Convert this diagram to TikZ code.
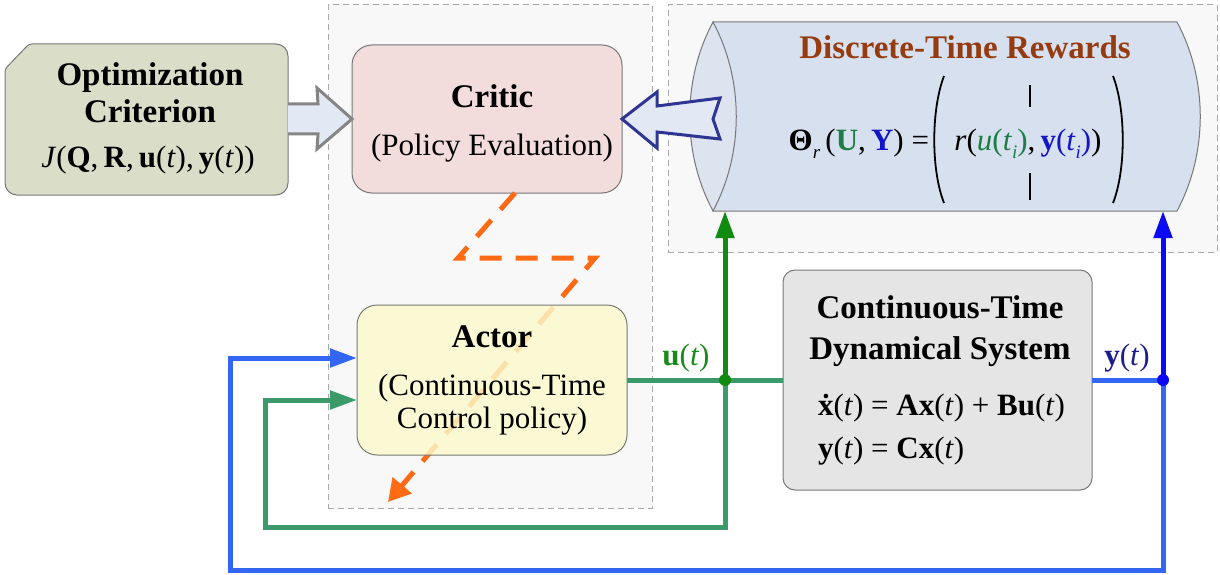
\documentclass[tikz,border=0pt]{standalone}
\usepackage{fontspec}
\setmainfont{Liberation Serif}
\usetikzlibrary{arrows.meta,calc}

\definecolor{optfill}{HTML}{DADEC8}
\definecolor{critfill}{HTML}{F2DCDC}
\definecolor{actfill}{HTML}{FCFACC}
\definecolor{sysfill}{HTML}{E5E5E5}
\definecolor{cylfill}{HTML}{D7E0EE}
\definecolor{cylface}{HTML}{DDE4F0}
\definecolor{panelfill}{HTML}{F8F8F8}
\definecolor{paneledge}{HTML}{A8A8A8}
\definecolor{boxedge}{HTML}{777777}
\definecolor{arrowfill}{HTML}{E2E9F4}
\definecolor{grayedge}{HTML}{858585}
\definecolor{navyedge}{HTML}{2E3592}
\definecolor{orangeline}{HTML}{FF6A14}
\definecolor{darkgreen}{HTML}{118A11}
\definecolor{midgreen}{HTML}{3A9A6A}
\definecolor{purblue}{HTML}{0A0AF5}
\definecolor{midblue}{HTML}{3366F5}
\definecolor{rewbrown}{HTML}{953B0F}
\definecolor{eqgreen}{HTML}{1E7D46}
\definecolor{eqblue}{HTML}{1414C8}
\definecolor{labnavy}{HTML}{1E1E8C}
\definecolor{labgreen}{HTML}{1A8A1A}

\newcommand{\titlefont}{\fontsize{33}{38}\selectfont\bfseries}
\newcommand{\bodyfont}{\fontsize{31}{35}\selectfont}
\newcommand{\ti}{\textit{t}}
\newcommand{\lowsub}[1]{\raisebox{-0.28em}{\fontsize{19}{19}\selectfont\textit{#1}}}

\tikzset{
  panel/.style={draw=paneledge, fill=panelfill, line width=1pt,
    dash pattern=on 6pt off 4pt, inner sep=0pt, outer sep=0pt},
  blockbox/.style={draw=boxedge, line width=1pt, rounded corners=20pt,
    inner sep=0pt, outer sep=0pt},
  ghost/.style={inner sep=0pt, outer sep=0pt},
  txt/.style={inner sep=0pt, outer sep=0pt, anchor=base},
  wire/.style={line width=5pt},
  tip/.style={-{Triangle[length=27pt,width=18pt]}},
  hollow/.style={line width=3pt, line join=miter, fill=arrowfill},
  orangedash/.style={draw=orangeline, line width=5pt,
    dash pattern=on 22pt off 14pt},
}

\begin{document}
\begin{tikzpicture}[x=1pt,y=-1pt]
\useasboundingbox (0,0) rectangle (1220,575);

% dashed background panels
\node[panel, minimum width=324pt, minimum height=503pt] (pan1) at (490,256.5) {};
\node[panel, minimum width=549pt, minimum height=247pt] (pan2) at (942.5,128.5) {};

% optimization criterion (snipped top-left corner)
\node[ghost, minimum width=283pt, minimum height=151pt] (opt) at (146.5,119.5) {};
\draw[draw=boxedge, fill=optfill, line width=1pt]
  ($(opt.north west)+(0,25)$) [rounded corners=3pt] -- ($(opt.north west)+(24,0)$)
  [rounded corners=12pt] -- (opt.north east) -- (opt.south east) -- (opt.south west)
  [rounded corners=3pt] -- cycle;

% critic
\node[blockbox, fill=critfill, minimum width=270pt, minimum height=148pt] (critic) at (487,119) {};

% discrete-time rewards cylinder
\node[ghost, minimum width=512pt, minimum height=189pt] (rew) at (946,116.5) {};
\draw[draw=boxedge, fill=cylfill, line width=1pt]
  (713,22) -- (1177,22) .. controls (1208,80) and (1208,153) .. (1177,211) -- (713,211) -- cycle;
\draw[draw=boxedge, fill=cylface, line width=1pt]
  (713,22) .. controls (682,80) and (682,153) .. (713,211)
  .. controls (744,153) and (744,80) .. (713,22) -- cycle;

% hollow block arrows into the critic
\draw[hollow, draw=grayedge]
  ($(opt.east |- critic.west)+(0,-15)$) -- ($(critic.west)+(-34,-15)$)
  -- ($(critic.west)+(-35,-31)$) -- (critic.west) -- ($(critic.west)+(-35,30)$)
  -- ($(critic.west)+(-34,15)$) -- ($(opt.east |- critic.west)+(0,15)$);
\draw[hollow, draw=navyedge]
  (critic.east) -- ($(critic.east)+(35,-27)$) -- ($(critic.east)+(35,-13)$)
  -- ($(critic.east)+(98,-21)$) -- ($(critic.east)+(91,0)$) -- ($(critic.east)+(98,20)$)
  -- ($(critic.east)+(35,13)$) -- ($(critic.east)+(35,29)$) -- cycle;

% policy update path from critic to actor
\coordinate (o0) at ($(critic.south)+(28,0)$);
\coordinate (o1) at (458,258);
\coordinate (o2) at (595,258);
\coordinate (o3) at (388,502);
\draw[orangedash, -{Triangle[length=22pt,width=24pt]}] (o0) -- (o1) -- (o2) -- (o3);

% actor (slightly translucent so the path shows through)
\node[blockbox, fill=actfill, fill opacity=0.82, minimum width=270pt, minimum height=150pt] (actor) at (492,380) {};

% plant
\node[blockbox, fill=sysfill, rounded corners=12pt, minimum width=309pt, minimum height=220pt] (sys) at (937.5,380) {};

% signal wiring
\coordinate (ju) at (725,380);
\coordinate (jy) at (1163,380);
\coordinate (gc) at (265,527);
\coordinate (bc) at (230,570);
\coordinate (ain1) at ($(actor.west)+(0,-22)$);
\coordinate (ain2) at ($(actor.west)+(0,20)$);

\draw[wire, draw=midblue, tip] (jy) |- (bc) |- (ain1);
\draw[wire, draw=midgreen, tip] (ju) |- (gc) |- (ain2);
\draw[wire, draw=midgreen] (actor.east) -- (sys.west);
\draw[wire, draw=midblue] (sys.east) -- (jy);
\draw[wire, draw=darkgreen, tip] (ju) -- (ju |- rew.south);
\draw[wire, draw=purblue, tip] (jy) -- (jy |- rew.south);
\fill[darkgreen] (ju) circle[radius=6pt];
\fill[purblue] (jy) circle[radius=6pt];

% texts
\node[txt] (optA) at (150,86) {\titlefont Optimization};
\node[txt] (optB) at (150,123) {\titlefont Criterion};
\node[txt] (optC) at (148,167) {\bodyfont \textit{J}(\textbf{Q},\,\textbf{R},\,\textbf{u}(\ti),\,\textbf{y}(\ti))};

\node[txt] (critA) at (492,108) {\titlefont Critic};
\node[txt] (critB) at (492,155) {\bodyfont (Policy Evaluation)};

\node[txt] (actA) at (492,347) {\titlefont Actor};
\node[txt] (actB) at (492,395) {\bodyfont (Continuous-Time};
\node[txt] (actC) at (492,428) {\bodyfont Control policy)};

\node[txt] (sysA) at (940,318) {\titlefont Continuous-Time};
\node[txt] (sysB) at (940,359) {\titlefont Dynamical System};
\node[txt, anchor=base west] (sysC) at (818,415) {\bodyfont \textbf{x}(\ti) = \textbf{Ax}(\ti) + \textbf{Bu}(\ti)};
% time-derivative dot over the first x
\fill ($(sysC.base west)+(7.9,-19)$) circle[radius=2.3pt];
\node[txt, anchor=base west] (sysD) at (818,458) {\bodyfont \textbf{y}(\ti) = \textbf{Cx}(\ti)};

\node[txt] (ulab) at (686,365) {\bodyfont\color{labgreen}\textbf{u}(\ti)};
\node[txt] (ylab) at (1127,365) {\bodyfont\color{labnavy}\textbf{y}(\ti)};

\node[txt] (rewA) at (965,59) {\titlefont\color{rewbrown} Discrete-Time Rewards};
\node[txt, anchor=base east] (rewB) at (929,150)
  {\bodyfont \textbf{Θ}\lowsub{r}\,(\textcolor{eqgreen}{\textbf{U}},\,\textcolor{eqblue}{\textbf{Y}}) =};
\node[txt] (rewC) at (1028,150)
  {\bodyfont \textit{r}(\textcolor{eqgreen}{\textit{u}(\textit{t}\lowsub{i})},\,\textcolor{eqblue}{\textbf{y}(\textit{t}\lowsub{i})})};
% vector brackets and elision bars
\draw[line width=1.8pt] (944,76) .. controls (931,110) and (931,170) .. (944,203);
\draw[line width=1.8pt] (1113,76) .. controls (1126,110) and (1126,170) .. (1113,203);
\draw[line width=2pt] (1030,85) -- (1030,107);
\draw[line width=2pt] (1030,173) -- (1030,200);
\end{tikzpicture}
\end{document}
